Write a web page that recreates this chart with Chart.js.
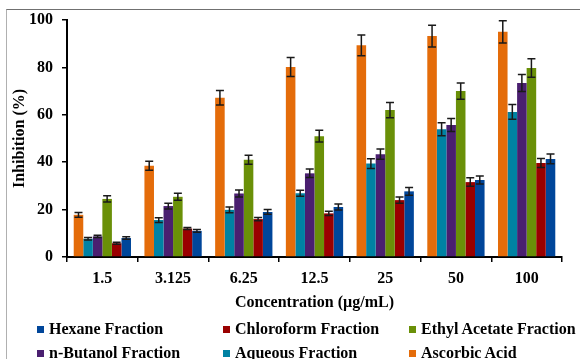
<!DOCTYPE html>
<html>
<head>
<meta charset="utf-8">
<script src="https://cdn.jsdelivr.net/npm/chart.js@4/dist/chart.umd.min.js"></script>
<style>
  body { margin: 0; background: #fff; }
  #wrap { position: relative; width: 580px; height: 359px; overflow: hidden; }
  #frame { position: absolute; left: 6px; top: 9px; right: -2px; bottom: -2px;
           border-top: 1px solid #707070; border-left: 1px solid #b0b0b0; }
  #myChart { position: absolute; left: 0; top: 0; }
  #legend { position: absolute; left: 0; top: 319px; width: 580px;
            font: bold 16px "Liberation Serif", "DejaVu Serif", serif; color: #000; }
  .item { position: absolute; white-space: nowrap; line-height: 20px; }
  .box { display: inline-block; width: 7px; height: 7px; margin-right: 5px; vertical-align: 1px; }
</style>
</head>
<body>
<div id="wrap">
  <div id="frame"></div>
  <canvas id="myChart" width="580" height="359"></canvas>
  <div id="legend"></div>
</div>
<script>
const concentrations = ["1.5", "3.125", "6.25", "12.5", "25", "50", "100"];

const ascorbic     = [17.8, 38.5, 67.2, 80.2, 89.3, 93.2, 95.0];
const aqueous      = [7.7, 15.6, 19.9, 26.9, 39.4, 53.9, 61.2];
const butanol      = [8.7, 21.5, 26.8, 35.3, 43.4, 55.7, 73.4];
const ethylAcetate = [24.5, 25.4, 41.0, 51.0, 62.0, 70.0, 79.7];
const chloroform   = [5.8, 12.0, 16.0, 18.4, 24.0, 31.6, 39.7];
const hexane       = [8.0, 11.0, 19.0, 21.1, 27.7, 32.5, 41.4];

const ascorbicErr     = [1.0, 1.9, 3.1, 4.0, 4.4, 4.6, 4.7];
const aqueousErr      = [0.5, 1.0, 1.2, 1.3, 2.1, 2.7, 3.1];
const butanolErr      = [0.5, 1.2, 1.5, 1.8, 2.2, 2.7, 3.6];
const ethylAcetateErr = [1.3, 1.5, 1.9, 2.5, 3.2, 3.4, 3.9];
const chloroformErr   = [0.4, 0.4, 0.7, 0.9, 1.3, 1.8, 1.9];
const hexaneErr       = [0.5, 0.6, 1.0, 1.3, 1.6, 1.7, 2.1];

const serif = "'Liberation Serif', 'DejaVu Serif', serif";

// draws the +/- error whiskers on top of every bar
const errorBars = {
  id: 'errorBars',
  afterDatasetsDraw(chart) {
    const ctx = chart.ctx;
    const yScale = chart.scales.y;
    ctx.save();
    ctx.strokeStyle = '#1a1a1a';
    ctx.lineWidth = 1.5;
    chart.data.datasets.forEach(function(ds, i) {
      const meta = chart.getDatasetMeta(i);
      meta.data.forEach(function(bar, j) {
        const v = ds.data[j], e = ds.errors[j];
        const yTop = yScale.getPixelForValue(v + e);
        const yBot = yScale.getPixelForValue(v - e);
        const x = bar.x;
        ctx.beginPath();
        ctx.moveTo(x, yTop); ctx.lineTo(x, yBot);
        ctx.moveTo(x - 4, yTop); ctx.lineTo(x + 4, yTop);
        ctx.moveTo(x - 4, yBot); ctx.lineTo(x + 4, yBot);
        ctx.stroke();
      });
    });
    ctx.restore();
  }
};

const chart = new Chart("myChart", {
  type: "bar",
  data: {
    labels: concentrations,
    datasets: [
      { label: "Ascorbic Acid", data: ascorbic, errors: ascorbicErr, backgroundColor: "#E46C0A" },
      { label: "Aqueous Fraction", data: aqueous, errors: aqueousErr, backgroundColor: "#0082A3" },
      { label: "n-Butanol Fraction", data: butanol, errors: butanolErr, backgroundColor: "#4A1F70" },
      { label: "Ethyl Acetate Fraction", data: ethylAcetate, errors: ethylAcetateErr, backgroundColor: "#6A9008" },
      { label: "Chloroform Fraction", data: chloroform, errors: chloroformErr, backgroundColor: "#9A0000" },
      { label: "Hexane Fraction", data: hexane, errors: hexaneErr, backgroundColor: "#00469A" }
    ]
  },
  options: {
    responsive: false,
    animation: false,
    categoryPercentage: 0.81,
    barPercentage: 1.0,
    layout: { padding: { left: 6, right: 18, top: 20, bottom: 42 } },
    plugins: {
      legend: { display: false },
      tooltip: { enabled: false }
    },
    scales: {
      x: {
        grid: { drawOnChartArea: false, drawTicks: true, tickLength: 5, color: '#000', lineWidth: 1.5 },
        border: { color: '#000', width: 2 },
        ticks: { color: '#000', padding: 7, font: { family: serif, size: 16, weight: 'bold' } },
        title: { display: true, text: "Concentration (µg/mL)", color: '#000',
                 padding: { top: 0, bottom: 5 }, font: { family: serif, size: 16, weight: 'bold' } },
        afterFit(scale) { scale.height = 60; }
      },
      y: {
        min: 0, max: 100,
        ticks: { stepSize: 20, color: '#000', padding: 9, font: { family: serif, size: 16, weight: 'bold' } },
        grid: { drawOnChartArea: false, drawTicks: true, tickLength: 5, color: '#000', lineWidth: 1.5 },
        border: { color: '#000', width: 2 },
        title: { display: true, text: "Inhibition (%)", color: '#000',
                 padding: { top: 4, bottom: 0 }, font: { family: serif, size: 16, weight: 'bold' } },
        afterFit(scale) { scale.width = 61; }
      }
    }
  },
  plugins: [errorBars]
});

// legend in three fixed columns, order reversed like the original
const legendCols = [37, 223, 409];
const legendEl = document.getElementById('legend');
chart.data.datasets.slice().reverse().forEach(function(ds, k) {
  const item = document.createElement('div');
  item.className = 'item';
  item.style.left = legendCols[k % 3] + 'px';
  item.style.top = (Math.floor(k / 3) * 24) + 'px';
  item.innerHTML = '<span class="box" style="background:' + ds.backgroundColor + '"></span>' + ds.label;
  legendEl.appendChild(item);
});
</script>
</body>
</html>
